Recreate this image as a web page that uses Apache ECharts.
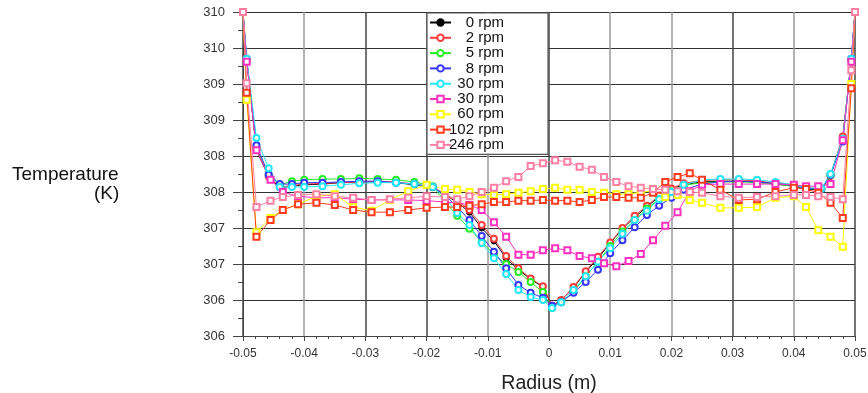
<!DOCTYPE html>
<html><head><meta charset="utf-8">
<script src="https://cdn.jsdelivr.net/npm/echarts@6/dist/echarts.min.js"></script>
<style>html,body{margin:0;padding:0;background:#fff}#c{width:868px;height:393px}</style>
</head><body><div id="c"></div>
<script>
// radii (m) for circle-marker series
const radiusA = [-0.05,-0.0494,-0.0478,-0.0458,-0.044,-0.042,-0.040,-0.037,-0.034,-0.031,-0.028,-0.025,-0.022,-0.019,-0.017,-0.015,-0.013,-0.011,-0.009,-0.007,-0.005,-0.003,-0.001,0.0005,0.002,0.004,0.006,0.008,0.010,0.012,0.014,0.016,0.018,0.020,0.022,0.025,0.028,0.031,0.034,0.037,0.040,0.042,0.0445,0.046,0.048,0.0494,0.05];
// radii (m) for square-marker series
const radiusB = [-0.05,-0.0494,-0.0478,-0.0455,-0.0435,-0.041,-0.038,-0.035,-0.032,-0.029,-0.026,-0.023,-0.020,-0.017,-0.015,-0.013,-0.011,-0.009,-0.007,-0.005,-0.003,-0.001,0.001,0.003,0.005,0.007,0.009,0.011,0.013,0.015,0.017,0.019,0.021,0.023,0.025,0.028,0.031,0.034,0.037,0.040,0.042,0.044,0.046,0.048,0.0494,0.05];

const temp0rpm = [310.25,309.58,308.33,307.96,307.81,307.83,307.85,307.86,307.88,307.89,307.89,307.88,307.85,307.81,307.71,307.61,307.47,307.25,307.07,306.83,306.67,306.54,306.43,306.17,306.25,306.42,306.64,306.83,307.04,307.24,307.40,307.54,307.69,307.79,307.85,307.89,307.90,307.90,307.89,307.86,307.83,307.79,307.78,307.97,308.51,309.58,310.25];
const temp2rpm = [310.25,309.58,308.35,307.97,307.82,307.84,307.86,307.87,307.88,307.89,307.90,307.89,307.86,307.82,307.72,307.63,307.50,307.29,307.10,306.86,306.69,306.55,306.44,306.17,306.25,306.43,306.65,306.85,307.05,307.25,307.42,307.56,307.70,307.80,307.87,307.91,307.92,307.92,307.90,307.88,307.85,307.81,307.79,307.98,308.52,309.58,310.25];
const temp5rpm = [310.25,309.58,308.36,307.99,307.85,307.90,307.92,307.93,307.93,307.94,307.93,307.92,307.89,307.83,307.62,307.42,307.24,307.06,306.88,306.75,306.64,306.50,306.36,306.14,306.22,306.36,306.58,306.78,307.00,307.20,307.36,307.52,307.65,307.76,307.84,307.88,307.89,307.89,307.88,307.86,307.83,307.80,307.79,307.99,308.47,309.58,310.25];
const temp8rpm = [310.25,309.60,308.40,307.99,307.86,307.86,307.88,307.88,307.89,307.90,307.90,307.88,307.86,307.82,307.71,307.54,307.36,307.14,306.92,306.69,306.46,306.35,306.28,306.17,306.22,306.35,306.50,306.67,306.90,307.08,307.26,307.43,307.56,307.67,307.78,307.86,307.89,307.90,307.89,307.87,307.84,307.80,307.79,307.99,308.45,309.60,310.25];
const temp30rpmA = [310.25,309.60,308.50,308.08,307.82,307.82,307.82,307.83,307.85,307.87,307.88,307.88,307.86,307.82,307.68,307.46,307.29,307.04,306.83,306.61,306.39,306.29,306.25,306.14,306.22,306.39,306.58,306.78,306.97,307.17,307.36,307.49,307.65,307.75,307.85,307.92,307.93,307.93,307.92,307.89,307.85,307.81,307.80,308.00,308.49,309.60,310.25];
const temp30rpmB = [310.25,309.56,308.33,307.92,307.75,307.69,307.67,307.67,307.65,307.64,307.64,307.64,307.63,307.61,307.60,307.57,307.50,307.33,307.13,306.88,306.88,306.94,306.97,306.94,306.86,306.83,306.76,306.72,306.79,306.89,307.08,307.28,307.47,307.76,307.85,307.86,307.86,307.86,307.86,307.85,307.83,307.83,307.86,308.47,309.56,310.25];
const temp60rpm = [310.25,309.03,307.19,307.39,307.50,307.58,307.69,307.72,307.54,307.49,307.64,307.76,307.85,307.79,307.78,307.75,307.72,307.71,307.72,307.74,307.76,307.79,307.81,307.78,307.78,307.75,307.74,307.72,307.72,307.75,307.76,307.68,307.71,307.64,307.60,307.53,307.53,307.54,307.67,307.69,307.54,307.22,307.13,306.99,309.25,310.25];
const temp102rpm = [310.25,309.13,307.13,307.36,307.50,307.58,307.60,307.57,307.50,307.47,307.47,307.50,307.53,307.54,307.54,307.56,307.58,307.61,307.61,307.63,307.63,307.64,307.63,307.63,307.61,307.64,307.68,307.68,307.67,307.67,307.74,307.89,307.96,308.01,307.92,307.78,307.64,307.65,307.75,307.81,307.79,307.74,307.60,307.39,309.19,310.25];
const temp246rpm = [310.25,309.26,307.54,307.63,307.68,307.71,307.72,307.69,307.67,307.64,307.65,307.67,307.69,307.68,307.65,307.69,307.75,307.81,307.90,307.96,308.11,308.15,308.19,308.17,308.10,308.06,307.96,307.89,307.83,307.81,307.79,307.78,307.76,307.75,307.74,307.69,307.67,307.68,307.69,307.71,307.71,307.69,307.68,307.65,309.44,310.25];

const seriesNames = ['0 rpm','2 rpm','5 rpm','8 rpm','30 rpm','30 rpm ','60 rpm','102 rpm','246 rpm'];
const yTicks = [305.75, 310.25, 0.5];
const xTicks = [-0.05, 0.05, 0.01];

const pairs = (xs, ys) => xs.map((x, i) => [x, ys[i]]);
const styles = [
  {c:'#000000', s:'circle'},
  {c:'#ff3b3b', s:'emptyCircle'},
  {c:'#22ee22', s:'emptyCircle'},
  {c:'#3535ff', s:'emptyCircle'},
  {c:'#22e8ff', s:'emptyCircle'},
  {c:'#ff2fc0', s:'emptyRect'},
  {c:'#ffff00', s:'emptyRect'},
  {c:'#ff3a1e', s:'emptyRect'},
  {c:'#ff7fa2', s:'emptyRect'}
];
const dataSets = [
  pairs(radiusA, temp0rpm), pairs(radiusA, temp2rpm), pairs(radiusA, temp5rpm),
  pairs(radiusA, temp8rpm), pairs(radiusA, temp30rpmA), pairs(radiusB, temp30rpmB),
  pairs(radiusB, temp60rpm), pairs(radiusB, temp102rpm), pairs(radiusB, temp246rpm)
];

const chart = echarts.init(document.getElementById('c'), null, {renderer:'canvas'});
const font = '"Liberation Sans", Arial, sans-serif';
chart.setOption({
  animation: false,
  backgroundColor: '#fff',
  textStyle: {fontFamily: font},
  grid: {left: 243, right: 13, top: 12, bottom: 57, containLabel: false, outerBoundsMode: 'none'},
  xAxis: {
    type: 'value', min: xTicks[0], max: xTicks[1], interval: xTicks[2],
    name: 'Radius (m)', nameLocation: 'middle', nameGap: 38,
    nameTextStyle: {fontSize: 19.5, color: '#222', fontFamily: font},
    axisLine: {show: true, onZero: false, lineStyle: {color: '#444', width: 1}},
    axisTick: {show: true, inside: false, length: 5, lineStyle: {color: '#444'}},
    minorTick: {show: true, splitNumber: 5, length: 3, lineStyle: {color: '#444'}},
    axisLabel: {fontSize: 12, color: '#333', margin: 12, fontFamily: font},
    splitLine: {show: true, lineStyle: {color: ['#444','#9a9a9a','#444','#444','#9a9a9a','#444','#9a9a9a','#9a9a9a','#444','#9a9a9a','#444'], width: 1.5}}
  },
  yAxis: {
    type: 'value', min: yTicks[0], max: yTicks[1], interval: yTicks[2],
    axisLine: {show: true, onZero: false, lineStyle: {color: '#444', width: 1}},
    axisTick: {show: true, inside: false, length: 10, lineStyle: {color: '#444'}},
    minorTick: {show: true, splitNumber: 2, length: 5, lineStyle: {color: '#444'}},
    axisLabel: {fontSize: 13, color: '#333', margin: 18, fontFamily: font,
      formatter: v => String(Math.round(v))},
    splitLine: {show: true, lineStyle: {color: '#333', width: 1.2}}
  },
  legend: {
    orient: 'vertical', left: 427, top: 13,
    padding: [2, 44, 2, 2], itemGap: 0.3, itemWidth: 21, itemHeight: 8,
    backgroundColor: '#fff', borderColor: '#555', borderWidth: 1.2,
    data: seriesNames,
    formatter: n => '{a|' + n.trim() + '}',
    textStyle: {fontSize: 15, color: '#111', fontFamily: font,
      rich: {a: {width: 48, align: 'right', fontSize: 15, lineHeight: 15, fontFamily: font, color: '#111'}}}
  },
  graphic: [
    {type: 'text', left: 12, top: 165, style: {text: 'Temperature', fontSize: 19, fontFamily: font, fill: '#111'}},
    {type: 'text', left: 94, top: 184, style: {text: '(K)', fontSize: 19, fontFamily: font, fill: '#111'}}
  ],
  series: seriesNames.map((n, i) => ({
    name: n, type: 'line', data: dataSets[i],
    symbol: styles[i].s, symbolSize: 6, showSymbol: true,
    lineStyle: {color: styles[i].c, width: 1},
    itemStyle: {color: styles[i].c, borderColor: styles[i].c, borderWidth: 1},
    emphasis: {disabled: true}
  }))
});
</script></body></html>
